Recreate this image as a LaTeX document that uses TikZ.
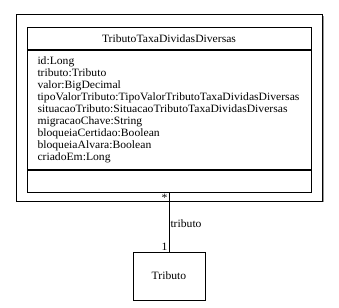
\documentclass[tikz,border=0pt]{standalone}
\usepackage{fontspec}
\setmainfont{Liberation Serif}[FakeStretch=1.04]
\usetikzlibrary{positioning, shadows}

\begin{document}
\begin{tikzpicture}[
    x=1pt, y=-1pt,
    font=\fontsize{11.2}{12}\selectfont,
    umlbox/.style={rectangle, draw, line width=1pt, fill=white, inner sep=0pt,
        drop shadow={shadow xshift=1pt, shadow yshift=-1pt, fill=gray, opacity=0.8}},
    classpart/.style={umlbox, minimum width=284pt},
    assoc/.style={line width=1pt}
]
\useasboundingbox (0,0) rectangle (339,307);

% Package frame
\node[umlbox, minimum width=306.5pt, minimum height=186pt] (pkg) at (169.25,108) {};

% Class TributoTaxaDividasDiversas
\node[classpart, minimum height=22pt] (head) at (169,39) {TributoTaxaDividasDiversas};
\node[classpart, minimum height=118pt, anchor=north, inner xsep=10.5pt,
      text width=263pt, align=left] (attrs) at (head.south) {%
    id:Long\\
    tributo:Tributo\\
    valor:BigDecimal\\
    tipoValorTributo:TipoValorTributoTaxaDividasDiversas\\
    situacaoTributo:SituacaoTributoTaxaDividasDiversas\\
    migracaoChave:String\\
    bloqueiaCertidao:Boolean\\
    bloqueiaAlvara:Boolean\\
    criadoEm:Long};
\node[classpart, minimum height=22pt, anchor=north] (ops) at (attrs.south) {};

% Class Tributo
\node[umlbox, minimum width=72pt, minimum height=48pt] (tributo) at (169,276) {Tributo};

% Association
\draw[assoc] (ops.south) -- (tributo.north)
    node[pos=0, anchor=north east, inner sep=1pt] (mstar) {*}
    node[pos=0.52, anchor=west, inner sep=1pt] (mrole) {tributo}
    node[pos=1, anchor=south east, inner sep=1pt] (mone) {1};

\end{tikzpicture}
\end{document}
